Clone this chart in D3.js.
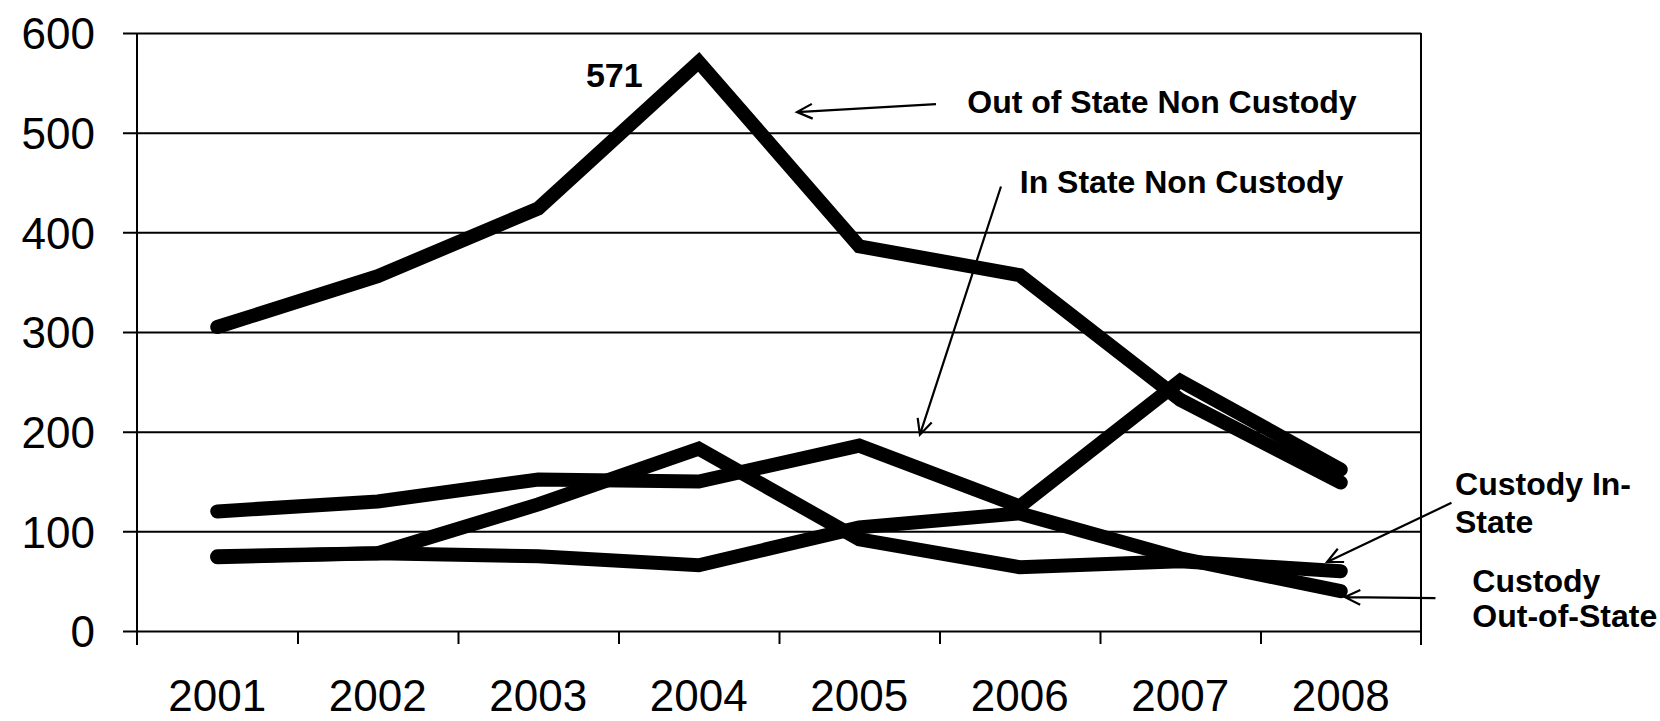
<!DOCTYPE html>
<html>
<head>
<meta charset="utf-8">
<script src="https://cdn.jsdelivr.net/npm/d3@7"></script>
<style>
  html, body { margin: 0; padding: 0; background: #fff; }
  svg { display: block; }
  text { font-family: "Liberation Sans", Arial, Helvetica, sans-serif; fill: #000; }
</style>
</head>
<body>
<svg id="chart" width="1660" height="721"></svg>
<script>
// ---- data ----
const years = ["2001", "2002", "2003", "2004", "2005", "2006", "2007", "2008"];
const yTicks = [0, 100, 200, 300, 400, 500, 600];
const outOfStateNonCustody = [305, 356, 424, 571, 386, 357, 232, 149];
const inStateNonCustody    = [120, 130, 152, 150, 186, 125, 251, 162];
const custodyInState       = [75, 78, 127, 183, 92, 64, 70, 60];
const custodyOutOfState    = [74, 78, 75, 66, 104, 118, 73, 40];
const seriesNames = ["Out of State Non Custody", "In State Non Custody", "Custody In-State", "Custody Out-of-State"];
const peakLabel = "571";

(function () {
// ---- layout ----
const svg = d3.select("#chart");
const mLeft = 137, mRight = 1421, mTop = 33, mBottom = 631;
const plotW = mRight - mLeft;

const x = d3.scaleBand().domain(years).range([mLeft, mRight]).padding(0);
const xEdge = d3.scaleLinear().domain([0, years.length]).range([mLeft, mRight]);
const xIdx = d3.scaleLinear().domain([0, years.length - 1])
  .range([x(years[0]) + x.bandwidth() / 2, x(years[years.length - 1]) + x.bandwidth() / 2]);
const y = d3.scaleLinear().domain([0, 600]).range([mBottom, mTop]);

// gridlines + y labels
const yAxis = svg.append("g")
  .attr("transform", `translate(${mLeft},0)`)
  .call(d3.axisLeft(y).tickValues(yTicks).tickSize(-plotW).tickPadding(42).tickFormat(d3.format("d")));
yAxis.select(".domain").remove();
yAxis.selectAll(".tick line").attr("x1", -14).attr("stroke", "#000").attr("stroke-width", 2);
yAxis.selectAll(".tick text").style("font-size", "44px").attr("dy", "0.36em");

// left axis line and right border
svg.append("line").attr("x1", mLeft).attr("x2", mLeft).attr("y1", y(600)).attr("y2", mBottom + 14)
  .attr("stroke", "#000").attr("stroke-width", 2);
svg.append("line").attr("x1", mRight).attr("x2", mRight).attr("y1", y(600)).attr("y2", mBottom + 14)
  .attr("stroke", "#000").attr("stroke-width", 2);

// x boundary ticks
const xTicksG = svg.append("g").attr("transform", `translate(0,${mBottom})`)
  .call(d3.axisBottom(xEdge).tickValues(d3.range(1, years.length)).tickSize(13).tickFormat(""));
xTicksG.select(".domain").remove();
xTicksG.selectAll(".tick line").attr("stroke", "#000").attr("stroke-width", 2);

// x labels
const xAxis = svg.append("g").attr("transform", `translate(0,${mBottom})`)
  .call(d3.axisBottom(x).tickSize(0).tickPadding(49));
xAxis.select(".domain").remove();
xAxis.selectAll(".tick text").style("font-size", "44px");

// lines
const line = d3.line().x((d, i) => x(years[i]) + x.bandwidth() / 2).y(d => y(d));
const allSeries = [custodyOutOfState, custodyInState, inStateNonCustody, outOfStateNonCustody];
svg.append("g").selectAll("path").data(allSeries).join("path")
  .attr("d", line)
  .attr("fill", "none")
  .attr("stroke", "#000")
  .attr("stroke-width", 14)
  .attr("stroke-linecap", "round")
  .attr("stroke-linejoin", "miter");

// ---- annotations (positions in data space: year index, value) ----
const ann = svg.append("g");
function txt(xi, v, s) {
  ann.append("text").attr("x", xIdx(xi)).attr("y", y(v))
    .style("font-size", "32px").style("font-weight", "bold").text(s);
}
ann.append("text").attr("x", xIdx(2.297)).attr("y", y(546))
  .style("font-size", "34px").style("font-weight", "bold").text(peakLabel);
txt(4.673, 519.6, seriesNames[0]);
txt(5.0, 439, seriesNames[1]);
txt(7.712, 136.7, "Custody In-");
txt(7.712, 98.5, "State");
txt(7.82, 39.2, "Custody");
txt(7.82, 4, "Out-of-State");

function arrow(t0, t1) {
  const x0 = xIdx(t0[0]), y0 = y(t0[1]), x1 = xIdx(t1[0]), y1 = y(t1[1]);
  const ang = Math.atan2(y1 - y0, x1 - x0);
  const L = 17, spread = Math.PI / 7;
  const p = d3.path();
  p.moveTo(x0, y0); p.lineTo(x1, y1);
  p.moveTo(x1 - L * Math.cos(ang - spread), y1 - L * Math.sin(ang - spread));
  p.lineTo(x1, y1);
  p.lineTo(x1 - L * Math.cos(ang + spread), y1 - L * Math.sin(ang + spread));
  ann.append("path").attr("d", p.toString()).attr("fill", "none")
    .attr("stroke", "#000").attr("stroke-width", 2.2);
}
arrow([4.478, 528.6], [3.612, 520.6]);
arrow([4.883, 446], [4.378, 197]);
arrow([7.69, 128.6], [6.915, 69.3]);
arrow([7.59, 33], [7.026, 34]);
})();
</script>
</body>
</html>
